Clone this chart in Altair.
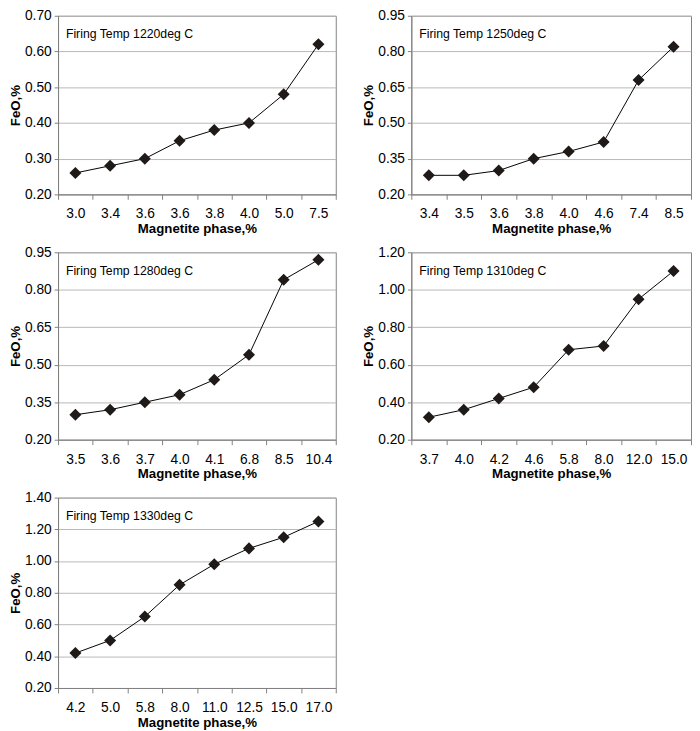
import altair as alt
import pandas as pd

FONT = "Liberation Sans"

notes = ["Firing Temp 1220deg C", "Firing Temp 1250deg C", "Firing Temp 1280deg C",
         "Firing Temp 1310deg C", "Firing Temp 1330deg C"]

mag_1 = ["3.0", "3.4", "3.6", "3.6", "3.8", "4.0", "5.0", "7.5"]
feo_1 = [0.26, 0.28, 0.30, 0.35, 0.38, 0.40, 0.48, 0.62]
yt_1 = [0.20, 0.30, 0.40, 0.50, 0.60, 0.70]

mag_2 = ["3.4", "3.5", "3.6", "3.8", "4.0", "4.6", "7.4", "8.5"]
feo_2 = [0.28, 0.28, 0.30, 0.35, 0.38, 0.42, 0.68, 0.82]
yt_2 = [0.20, 0.35, 0.50, 0.65, 0.80, 0.95]

mag_3 = ["3.5", "3.6", "3.7", "4.0", "4.1", "6.8", "8.5", "10.4"]
feo_3 = [0.30, 0.32, 0.35, 0.38, 0.44, 0.54, 0.84, 0.92]
yt_3 = [0.20, 0.35, 0.50, 0.65, 0.80, 0.95]

mag_4 = ["3.7", "4.0", "4.2", "4.6", "5.8", "8.0", "12.0", "15.0"]
feo_4 = [0.32, 0.36, 0.42, 0.48, 0.68, 0.70, 0.95, 1.10]
yt_4 = [0.20, 0.40, 0.60, 0.80, 1.00, 1.20]

mag_5 = ["4.2", "5.0", "5.8", "8.0", "11.0", "12.5", "15.0", "17.0"]
feo_5 = [0.42, 0.50, 0.65, 0.85, 0.98, 1.08, 1.15, 1.25]
yt_5 = [0.20, 0.40, 0.60, 0.80, 1.00, 1.20, 1.40]


def panel(labels, values, ticks, note, w, h):
    df = pd.DataFrame({"i": list(range(len(labels))), "feo": values})
    expr = "[" + ",".join("'" + l + "'" for l in labels) + "][datum.value]"
    x = alt.X("i:O",
              scale=alt.Scale(type="band", paddingInner=0, paddingOuter=0),
              bandPosition=0.5,
              axis=alt.Axis(title="Magnetite phase,%", labelExpr=expr, labelAngle=0,
                            tickBand="extent", grid=False, tickSize=5,
                            labelPadding=8, titlePadding=1))
    y = alt.Y("feo:Q",
              scale=alt.Scale(domain=[ticks[0], ticks[-1]], nice=False, zero=False),
              axis=alt.Axis(values=ticks, format=".2f", title="FeO,%", tickSize=4,
                            labelPadding=3, titlePadding=2, grid=True))
    base = alt.Chart(df)
    line = base.mark_line(color="#000000", strokeWidth=1).encode(x=x, y=y)
    pts = base.mark_point(shape="diamond", filled=True, size=150, color="#1f1a17",
                          opacity=1).encode(x=x, y=y)
    txt = alt.Chart(pd.DataFrame({"t": [note]})).mark_text(
        align="left", baseline="middle", fontSize=12.5, font=FONT, color="#000000"
    ).encode(text="t:N", x=alt.value(8), y=alt.value(19))
    return alt.layer(line, pts, txt).properties(width=w, height=h)


p1 = panel(mag_1, feo_1, yt_1, notes[0], 283, 182)
p2 = panel(mag_2, feo_2, yt_2, notes[1], 285, 182)
p3 = panel(mag_3, feo_3, yt_3, notes[2], 283, 191)
p4 = panel(mag_4, feo_4, yt_4, notes[3], 285, 191)
p5 = panel(mag_5, feo_5, yt_5, notes[4], 283, 194)

chart = alt.vconcat(
    alt.hconcat(p1, p2, spacing=25),
    alt.hconcat(p3, p4, spacing=25),
    p5,
    spacing=9,
).properties(
    padding={"top": -7, "left": 0, "right": 0, "bottom": 0}
).configure_view(
    stroke="#808080", strokeWidth=1
).configure_axis(
    labelFont=FONT, labelFontSize=14, labelColor="#000000",
    titleFont=FONT, titleFontSize=13.5, titleFontWeight="bold", titleColor="#000000",
    domainColor="#808080", tickColor="#808080", gridColor="#b8b8b8",
)

chart.save("out.html", embed_options={"renderer": "svg", "actions": False})
